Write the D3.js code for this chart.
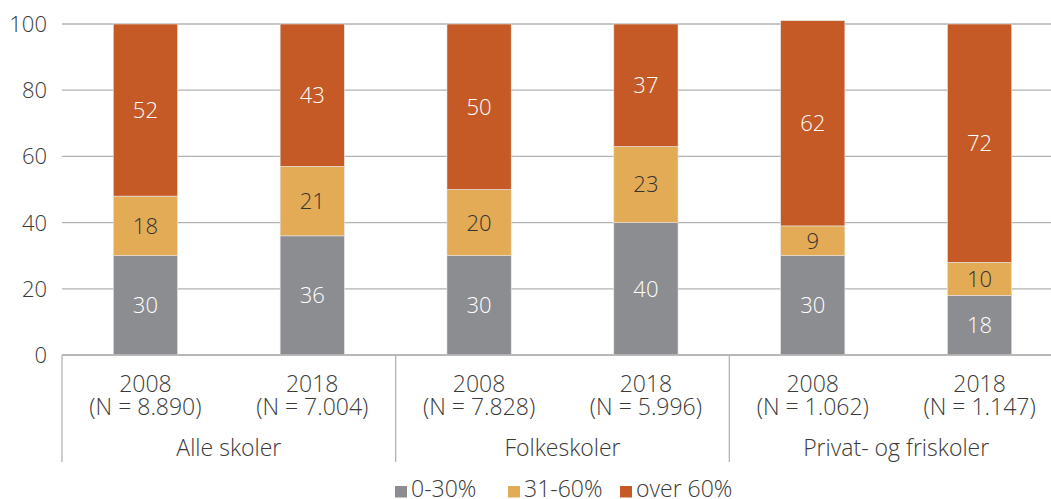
<!DOCTYPE html>
<html><head><meta charset="utf-8">
<script src="https://cdn.jsdelivr.net/npm/d3@7/dist/d3.min.js"></script>
<style>body{margin:0;background:#fff}svg{display:block}text{font-family:"Open Sans","Noto Sans",sans-serif;font-weight:300;}</style>
</head><body><svg id="c" width="1051" height="499"></svg>
<script>
const groups = ["Alle skoler", "Folkeskoler", "Privat- og friskoler"];
const years = ["2008", "2018", "2008", "2018", "2008", "2018"];
const nLabels = ["(N = 8.890)", "(N = 7.004)", "(N = 7.828)", "(N = 5.996)", "(N = 1.062)", "(N = 1.147)"];
const seriesNames = ["0-30%", "31-60%", "over 60%"];
const low = [30, 36, 30, 40, 30, 18];
const mid = [18, 21, 20, 23, 9, 10];
const high = [52, 43, 50, 37, 62, 72];
const yTicks = [0, 20, 40, 60, 80, 100];
const colors = ["#8C8D91", "#E3AB55", "#C55A26"];
const labelColors = ["#ffffff", "#333333", "#ffffff"];

(function () {
const svg = d3.select("#c");
const mLeft = 62, mRight = 1063, mTop = 24, mBottom = 355;
const idx = d3.range(years.length);
const x = d3.scaleBand().domain(idx).range([mLeft, mRight]).paddingInner(0.615).paddingOuter(0.3075);
const y = d3.scaleLinear().domain([0, 100]).range([mBottom, mTop]);

svg.append("g").selectAll("line").data(yTicks).join("line")
  .attr("x1", mLeft).attr("x2", 1051).attr("y1", d => y(d)).attr("y2", d => y(d))
  .attr("stroke", "#b3b3b3").attr("stroke-width", 1.3);
svg.append("g").selectAll("text").data(yTicks).join("text")
  .attr("x", 47).attr("y", d => y(d)).attr("dy", "0.36em").attr("text-anchor", "end")
  .attr("font-size", 22).attr("fill", "#3a3a3a").text(d => d);

const data = idx.map(i => ({i, vals: [low[i], mid[i], high[i]]}));
const stack = d3.stack().keys([0, 1, 2]).value((d, k) => d.vals[k]);
const stacked = stack(data);

const gBars = svg.append("g");
stacked.forEach((layer, k) => {
  gBars.append("g").selectAll("rect").data(layer).join("rect")
    .attr("x", d => x(d.data.i)).attr("width", x.bandwidth())
    .attr("y", d => y(d[1])).attr("height", d => y(d[0]) - y(d[1]))
    .attr("fill", colors[k]).attr("stroke", "#e6e6e6").attr("stroke-width", 0.6);
  gBars.append("g").selectAll("text").data(layer).join("text")
    .attr("x", d => x(d.data.i) + x.bandwidth() / 2)
    .attr("y", d => (y(d[0]) + y(d[1])) / 2).attr("dy", "0.36em")
    .attr("text-anchor", "middle").attr("font-size", 22).attr("fill", labelColors[k])
    .text(d => d.data.vals[k]);
});

svg.append("line").attr("x1", mLeft).attr("x2", 1051).attr("y1", mBottom).attr("y2", mBottom)
  .attr("stroke", "#b3b3b3").attr("stroke-width", 1.3);
const gw = (mRight - mLeft) / groups.length;
svg.append("g").selectAll("line").data(d3.range(groups.length + 1)).join("line")
  .attr("x1", d => mLeft + d * gw).attr("x2", d => mLeft + d * gw)
  .attr("y1", mBottom).attr("y2", 462).attr("stroke", "#b3b3b3").attr("stroke-width", 1.3);

const cat = svg.append("g").attr("font-size", 23).attr("fill", "#3a3a3a").attr("text-anchor", "middle");
cat.selectAll("text.yr").data(idx).join("text").attr("class", "yr")
  .attr("x", i => x(i) + x.bandwidth() / 2).attr("y", 391.5).text(i => years[i]);
cat.selectAll("text.n").data(idx).join("text").attr("class", "n")
  .attr("x", i => x(i) + x.bandwidth() / 2).attr("y", 414.5).text(i => nLabels[i]);
cat.selectAll("text.g").data(groups).join("text").attr("class", "g")
  .attr("x", (d, j) => mLeft + gw * (j + 0.5)).attr("y", 456).text(d => d);

const legX = [395, 508, 620];
const leg = svg.append("g");
seriesNames.forEach((s, k) => {
  leg.append("rect").attr("x", legX[k]).attr("y", 486).attr("width", 12).attr("height", 11.5).attr("fill", colors[k]);
  leg.append("text").attr("x", legX[k] + 16).attr("y", 497).attr("font-size", 23).attr("fill", "#3a3a3a").text(s);
});
})();
</script></body></html>
